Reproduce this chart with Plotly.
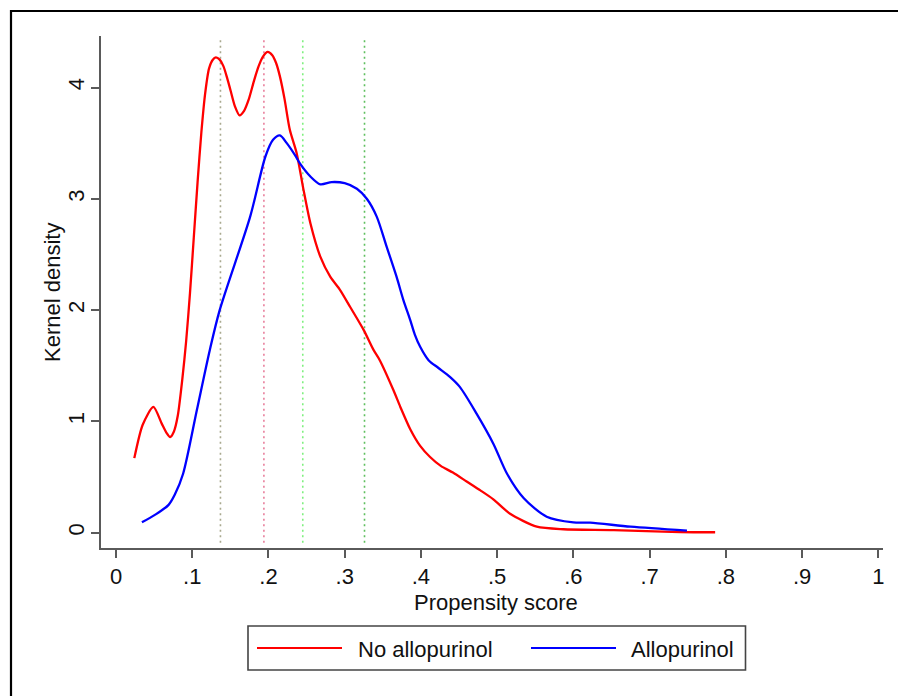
import plotly.graph_objects as go

# Kernel density estimates of the propensity score, by treatment group
no_allo_x = [0.024, 0.035, 0.049, 0.060, 0.066, 0.071, 0.076, 0.081, 0.087, 0.092,
             0.097, 0.102, 0.107, 0.112, 0.117, 0.122, 0.127, 0.131, 0.136, 0.141,
             0.146, 0.150, 0.156, 0.162, 0.168, 0.174, 0.181, 0.187, 0.193, 0.199,
             0.205, 0.210, 0.215, 0.221, 0.228, 0.237, 0.246, 0.255, 0.268, 0.281,
             0.294, 0.307, 0.325, 0.338, 0.346, 0.364, 0.373, 0.386, 0.399, 0.412,
             0.426, 0.442, 0.460, 0.478, 0.495, 0.517, 0.552, 0.587, 0.653, 0.740,
             0.786]
no_allo_y = [0.67, 0.97, 1.13, 0.98, 0.90, 0.86, 0.91, 1.05, 1.38, 1.72,
             2.15, 2.65, 3.15, 3.60, 3.95, 4.17, 4.25, 4.27, 4.25, 4.19,
             4.08, 3.98, 3.83, 3.75, 3.79, 3.89, 4.06, 4.19, 4.28, 4.32,
             4.29, 4.22, 4.10, 3.90, 3.62, 3.41, 3.08, 2.78, 2.48, 2.30,
             2.18, 2.03, 1.82, 1.64, 1.55, 1.28, 1.13, 0.93, 0.78, 0.68,
             0.60, 0.54, 0.46, 0.38, 0.30, 0.17, 0.054, 0.031, 0.024, 0.006,
             0.004]

allo_x = [0.034, 0.051, 0.069, 0.077, 0.088, 0.106, 0.123, 0.136, 0.176, 0.196,
          0.206, 0.215, 0.224, 0.235, 0.241, 0.255, 0.268, 0.283, 0.300, 0.316,
          0.329, 0.342, 0.355, 0.368, 0.377, 0.386, 0.392, 0.399, 0.410, 0.423,
          0.438, 0.451, 0.473, 0.495, 0.513, 0.535, 0.565, 0.600, 0.622, 0.675,
          0.749]
allo_y = [0.093, 0.16, 0.25, 0.34, 0.53, 1.10, 1.64, 2.00, 2.84, 3.38,
          3.53, 3.57, 3.50, 3.39, 3.32, 3.20, 3.13, 3.15, 3.14, 3.09,
          3.00, 2.84, 2.57, 2.30, 2.09, 1.91, 1.78, 1.67, 1.55, 1.48,
          1.40, 1.31, 1.07, 0.80, 0.53, 0.31, 0.144, 0.093, 0.090, 0.054,
          0.018]

# Reference lines (dotted verticals)
ref_x = [0.137, 0.194, 0.245, 0.326]
ref_colors = ["#a9a98f", "#e87f9c", "#7ff07f", "#5fbf5f"]

x_tickvals = [0, 0.1, 0.2, 0.3, 0.4, 0.5, 0.6, 0.7, 0.8, 0.9, 1.0]
x_ticktext = ["0", ".1", ".2", ".3", ".4", ".5", ".6", ".7", ".8", ".9", "1"]
y_tickvals = [0, 1, 2, 3, 4]

series_names = ["No allopurinol", "Allopurinol"]
series_colors = ["#ff0000", "#0000ff"]
x_title = "Propensity score"
y_title = "Kernel density"

FONT = "Liberation Sans, Arial, sans-serif"
TXT = "#111111"
AXC = "#5a5a5a"

W, H = 898, 696
L, R, T, B = 101, 15, 36, 148
PW, PH = W - L - R, H - T - B


def px_x(p):
    return (p - L) / PW


def px_y(p):
    return (H - B - p) / PH


fig = go.Figure()

fig.add_trace(go.Scatter(x=no_allo_x, y=no_allo_y, mode="lines", name=series_names[0],
                         line=dict(color=series_colors[0], width=2.3, shape="spline", smoothing=0.7),
                         showlegend=False, hoverinfo="skip"))
fig.add_trace(go.Scatter(x=allo_x, y=allo_y, mode="lines", name=series_names[1],
                         line=dict(color=series_colors[1], width=2.3, shape="spline", smoothing=0.8),
                         showlegend=False, hoverinfo="skip"))

shapes = []
for xv, c in zip(ref_x, ref_colors):
    shapes.append(dict(type="line", xref="x", yref="y", x0=xv, x1=xv, y0=-0.09, y1=4.445,
                       line=dict(color=c, width=1.6, dash="2px,3.5px"), layer="below"))

# Outer frame (left and top edges)
shapes.append(dict(type="path", xref="paper", yref="paper",
                   path=f"M {px_x(11)} {px_y(700)} L {px_x(11)} {px_y(11)} L {px_x(900)} {px_y(11)}",
                   line=dict(color="#000000", width=2.2)))

# Legend box and line keys
shapes.append(dict(type="rect", xref="paper", yref="paper",
                   x0=px_x(248), x1=px_x(745.5), y0=px_y(670), y1=px_y(626),
                   line=dict(color="#444444", width=1.6), fillcolor="white"))
shapes.append(dict(type="line", xref="paper", yref="paper",
                   x0=px_x(257), x1=px_x(342), y0=px_y(648), y1=px_y(648),
                   line=dict(color=series_colors[0], width=2)))
shapes.append(dict(type="line", xref="paper", yref="paper",
                   x0=px_x(531), x1=px_x(616), y0=px_y(648), y1=px_y(648),
                   line=dict(color=series_colors[1], width=2)))

tfont = dict(size=22, color=TXT, family=FONT)
annotations = [
    dict(text=series_names[0], xref="paper", yref="paper", x=px_x(356), y=px_y(649),
         xanchor="left", yanchor="middle", showarrow=False, font=tfont),
    dict(text=series_names[1], xref="paper", yref="paper", x=px_x(629), y=px_y(649),
         xanchor="left", yanchor="middle", showarrow=False, font=tfont),
    # axis titles
    dict(text=x_title, xref="paper", yref="paper", x=px_x(496.5), y=px_y(602),
         xanchor="center", yanchor="middle", showarrow=False, font=tfont),
    dict(text=y_title, xref="paper", yref="paper", x=px_x(52.5), y=px_y(292.5),
         xanchor="center", yanchor="middle", showarrow=False, font=tfont, textangle=-90),
]

fig.update_layout(
    width=W, height=H,
    margin=dict(l=L, r=R, t=T, b=B),
    paper_bgcolor="white", plot_bgcolor="white",
    font=dict(family=FONT, size=22, color=TXT),
    shapes=shapes, annotations=annotations,
    showlegend=False,
)

fig.update_xaxes(range=[-0.0197, 1.0062], tickvals=x_tickvals, ticktext=x_ticktext,
                 showgrid=False, zeroline=False, showline=True, linecolor=AXC, linewidth=2,
                 ticks="outside", ticklen=8, tickwidth=2, tickcolor=AXC,
                 tickfont=tfont)
fig.update_yaxes(range=[-0.1375, 4.4627], tickvals=y_tickvals,
                 showgrid=False, zeroline=False, showline=True, linecolor=AXC, linewidth=2,
                 ticks="outside", ticklen=8, tickwidth=2, tickcolor=AXC, tickangle=-90,
                 ticklabelstandoff=-2, tickfont=tfont)

fig.write_html("out.html")
